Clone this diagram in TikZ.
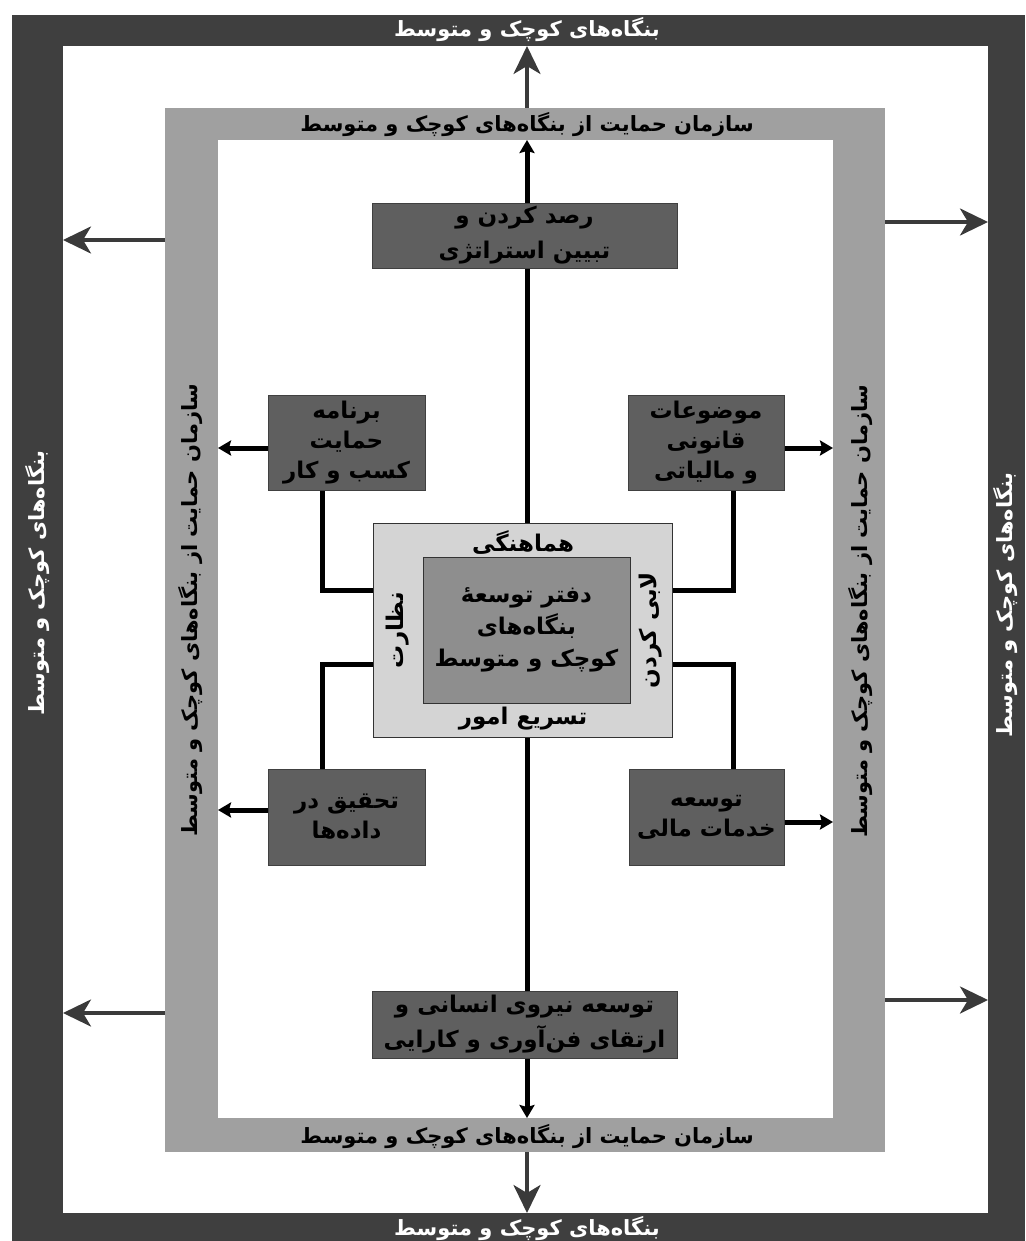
\documentclass[tikz,border=0pt]{standalone}
\usepackage{fontspec}
\TeXXeTstate=1
\newfontfamily\arabicfont[Script=Arabic]{DejaVu Sans}
\usetikzlibrary{arrows.meta}
\newcommand\pr[1]{{\arabicfont\bfseries\beginR #1\endR}}
\definecolor{frameDark}{HTML}{3F3F3F}
\definecolor{bandGray}{HTML}{A0A0A0}
\definecolor{boxDark}{HTML}{5F5F5F}
\definecolor{centerLight}{HTML}{D4D4D4}
\definecolor{centerMid}{HTML}{8E8E8E}
\definecolor{arrowDark}{HTML}{3A3A3A}
\pgfdeclarelayer{back}
\pgfdeclarelayer{lines}
\pgfsetlayers{back,lines,main}
\begin{document}
\begin{tikzpicture}[x=1pt,y=-1pt,
  area/.style={inner sep=0pt, outer sep=0pt},
  outtxt/.style={text=white, font=\fontsize{21}{24}\selectfont, inner sep=0pt},
  bandtxt/.style={text=black, font=\fontsize{21}{24}\selectfont, inner sep=0pt},
  boxnode/.style={fill=boxDark, draw=black!75, line width=0.8pt, align=center,
     font=\fontsize{23}{35}\selectfont, inner sep=0pt, outer sep=0pt},
  tallbox/.style={boxnode, font=\fontsize{23}{30}\selectfont},
  conn/.style={line width=5pt, black},
  smallarr/.style={conn, -{Stealth[length=13pt,width=15pt,inset=2pt]}},
  bigarr/.style={line width=3.5pt, arrowDark, -{Stealth[length=28pt,width=27pt,inset=8pt]}},
  lbl/.style={font=\fontsize{23}{26}\selectfont, inner sep=0pt}]
\useasboundingbox (0,0) rectangle (1025,1241);
\begin{pgfonlayer}{back}
  \node[area, fill=frameDark, minimum width=1013pt, minimum height=1226pt] (frame) at (518.5,628) {};
  \node[area, fill=white, minimum width=925pt, minimum height=1167pt] (win) at (525.5,629.5) {};
  \node[area, fill=bandGray, minimum width=720pt, minimum height=1044pt] (band) at (525,630) {};
  \node[area, fill=white, minimum width=615pt, minimum height=978pt] (bin) at (525.5,629) {};
\end{pgfonlayer}
% texts on the outer dark frame
\node[outtxt] (oT) at (527,30) {\pr{بنگاه^^^^200cهای کوچک و متوسط}};
\node[outtxt] (oB) at (527,1228) {\pr{بنگاه^^^^200cهای کوچک و متوسط}};
\node[outtxt, rotate=90] (oL) at (38,583) {\pr{بنگاه^^^^200cهای کوچک و متوسط}};
\node[outtxt, rotate=90] (oR) at (1005,605) {\pr{بنگاه^^^^200cهای کوچک و متوسط}};
% texts on the gray band
\node[bandtxt] (gT) at (527,125) {\pr{سازمان حمایت از بنگاه^^^^200cهای کوچک و متوسط}};
\node[bandtxt] (gB) at (527,1136) {\pr{سازمان حمایت از بنگاه^^^^200cهای کوچک و متوسط}};
\node[bandtxt, rotate=90] (gL) at (191,610) {\pr{سازمان حمایت از بنگاه^^^^200cهای کوچک و متوسط}};
\node[bandtxt, rotate=90] (gR) at (860,611) {\pr{سازمان حمایت از بنگاه^^^^200cهای کوچک و متوسط}};
% boxes
\node[boxnode, minimum width=305pt, minimum height=65pt] (rasad) at (524.5,235.5)
  {\pr{رصد کردن و}\\\pr{تبیین استراتژی}};
\node[boxnode, minimum width=305pt, minimum height=67pt] (niru) at (524.5,1024.5)
  {\pr{توسعه نیروی انسانی و}\\\pr{ارتقای فن^^^^200cآوری و کارایی}};
\node[tallbox, minimum width=157pt, minimum height=95pt] (barname) at (346.5,442.5)
  {\pr{برنامه}\\\pr{حمایت}\\\pr{کسب و کار}};
\node[tallbox, minimum width=156pt, minimum height=95pt] (mozu) at (706,442.5)
  {\pr{موضوعات}\\\pr{قانونی}\\\pr{و مالیاتی}};
\node[tallbox, minimum width=157pt, minimum height=96pt] (tahqiq) at (346.5,817)
  {\pr{تحقیق در}\\\pr{داده^^^^200cها}};
\node[tallbox, minimum width=155pt, minimum height=96pt] (khad) at (706.5,817)
  {\pr{توسعه}\\\pr{خدمات مالی}};
% central box
\node[area, fill=centerLight, draw=black!80, line width=0.8pt, minimum width=299pt, minimum height=214pt] (cO) at (522.5,630) {};
\node[area, fill=centerMid, draw=black!80, line width=0.8pt, minimum width=207pt, minimum height=146pt, align=center,
  font=\fontsize{23}{32}\selectfont] (cI) at (526.5,630)
  {\pr{دفتر توسعه^^^^0654}\\\pr{بنگاه^^^^200cهای}\\\pr{کوچک و متوسط}};
\node[lbl] (hamahangi) at (523,542) {\pr{هماهنگی}};
\node[lbl] (tasri) at (523,719) {\pr{تسریع امور}};
\node[lbl, rotate=90] (nezarat) at (398,630) {\pr{نظارت}};
\node[lbl, rotate=90] (labi) at (651,630) {\pr{لابی کردن}};
% helper coordinates
\coordinate (spine) at (527,0);
\coordinate (xL) at (322,0);
\coordinate (xR) at (733,0);
\coordinate (yU) at (0,590);
\coordinate (yD) at (0,664);
\coordinate (yA1) at (0,240);
\coordinate (yA2) at (0,1013);
\coordinate (yB1) at (0,222);
\coordinate (yB2) at (0,1000);
\begin{pgfonlayer}{lines}
  % spine
  \draw[smallarr] (cO.north -| spine) -- (bin.north -| spine);
  \draw[smallarr] (cO.south -| spine) -- (bin.south -| spine);
  % side boxes to the centre
  \draw[conn] (barname.south -| xL) |- (cO.west |- yU);
  \draw[conn] (tahqiq.north -| xL) |- (cO.west |- yD);
  \draw[conn] (mozu.south -| xR) |- (cO.east |- yU);
  \draw[conn] (khad.north -| xR) |- (cO.east |- yD);
  % side boxes to the band
  \draw[smallarr] ([yshift=-5.5pt]barname.west) -- ([yshift=-5.5pt]barname.west -| bin.west);
  \draw[smallarr] ([yshift=7pt]tahqiq.west) -- ([yshift=7pt]tahqiq.west -| bin.west);
  \draw[smallarr] ([yshift=-5.5pt]mozu.east) -- ([yshift=-5.5pt]mozu.east -| bin.east);
  \draw[smallarr] ([yshift=-5pt]khad.east) -- ([yshift=-5pt]khad.east -| bin.east);
\end{pgfonlayer}
% band to frame
\draw[bigarr] (band.north -| spine) -- (win.north -| spine);
\draw[bigarr] (band.south -| spine) -- (win.south -| spine);
\draw[bigarr] (band.west |- yA1) -- (win.west |- yA1);
\draw[bigarr] (band.west |- yA2) -- (win.west |- yA2);
\draw[bigarr] (band.east |- yB1) -- (win.east |- yB1);
\draw[bigarr] (band.east |- yB2) -- (win.east |- yB2);
\end{tikzpicture}
\end{document}
